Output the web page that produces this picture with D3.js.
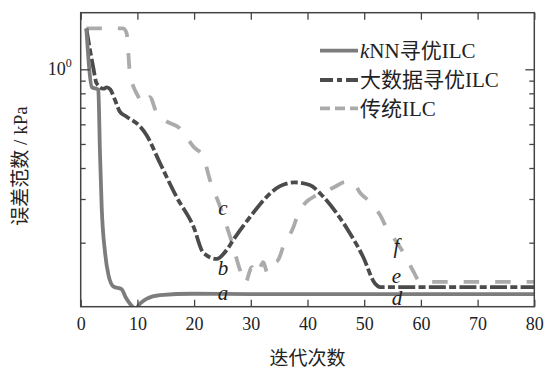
<!DOCTYPE html>
<html>
<head>
<meta charset="utf-8">
<script src="https://cdn.jsdelivr.net/npm/d3@7"></script>
<style>
body { margin: 0; background: #fff; }
</style>
</head>
<body>
<script>
// kNN寻优ILC (solid)
let knnX = [1, 2, 3, 3.1, 3.4, 3.7, 4.3, 4.9, 5.8, 7.2, 8, 8.9, 9.6, 10.5, 11.6, 14, 19.8, 30, 50, 80];
let knnY = [1.46, 0.846, 0.831, 0.825, 0.46, 0.279, 0.182, 0.148, 0.133, 0.130, 0.1197, 0.112, 0.108, 0.1139, 0.1188, 0.123, 0.1245, 0.124, 0.124, 0.124];

// 大数据寻优ILC (dash-dot)
let bigX = [1, 2.2, 2.8, 4, 4.6, 5.2, 6.05, 6.9, 8.1, 10.5, 11.6, 14, 16.9, 19.9, 21.6, 24, 25.75, 26.9, 29.9, 32.8, 35.15, 37.8, 40.4, 42.8, 45.15, 47.5, 49.8, 51.9, 52.8, 55, 80];
let bigY = [1.46, 1.02, 0.878, 0.835, 0.845, 0.83, 0.752, 0.675, 0.644, 0.587, 0.543, 0.418, 0.306, 0.232, 0.1825, 0.172, 0.187, 0.205, 0.2545, 0.306, 0.338, 0.350, 0.3415, 0.306, 0.2627, 0.218, 0.1755, 0.137, 0.1325, 0.1325, 0.1325];

// 传统ILC (dashed)
let traX = [1, 7.5, 8.1, 8.7, 9.3, 10, 11, 12.2, 13.4, 15.2, 17.5, 19, 19.9, 21.6, 22.8, 24.6, 26.9, 28.1, 29.0, 30.2, 31.1, 32.2, 32.9, 33.75, 34.8, 36.0, 37.3, 38.3, 39.6, 41.3, 42.6, 44.85, 46.6, 47.9, 49.3, 51.3, 52.8, 54.0, 55.7, 57.5, 58.7, 59.9, 80];
let traY = [1.463, 1.463, 1.397, 0.948, 0.851, 0.788, 0.725, 0.773, 0.665, 0.615, 0.578, 0.519, 0.4875, 0.444, 0.358, 0.279, 0.1926, 0.155, 0.1375, 0.1595, 0.1495, 0.167, 0.152, 0.164, 0.170, 0.201, 0.225, 0.2585, 0.289, 0.308, 0.317, 0.336, 0.351, 0.351, 0.317, 0.288, 0.2585, 0.2285, 0.2015, 0.173, 0.1527, 0.139, 0.139];

let xTicks = [0, 10, 20, 30, 40, 50, 60, 70, 80];
let yMinor = [0.2, 0.3, 0.4, 0.5, 0.6, 0.7, 0.8, 0.9];
let yMajor = [1];

let seriesNames = ["kNN寻优ILC", "大数据寻优ILC", "传统ILC"];
let seriesColors = ["#7c7c7c", "#4b4b4b", "#ababab"];
let seriesDash = [null, "17,3.3,7,3.3", "15.5,16"];
let legendDash = [null, "13,4,5,4", "10,5"];

let markText = ["a", "b", "c", "d", "e", "f"];
let markX = [25.1, 25.1, 25.1, 55.8, 55.7, 55.7];
let markY = [0.125, 0.1576, 0.275, 0.1184, 0.1459, 0.1926];

let w = 546, h = 369;
let padL = 80.7, padR = 534.3, padT = 12.7, padB = 306.7;

let serif = "'Liberation Serif', 'Times New Roman', 'Noto Sans CJK SC', serif";

let xScale = d3.scaleLinear().domain([0, 80]).range([padL, padR]);
let yScale = d3.scaleLog().domain([0.1104, 1.691]).range([padB, padT]);

let svg = d3.select("body").append("svg")
  .attr("width", w).attr("height", h);

svg.append("clipPath").attr("id", "plot")
  .append("rect")
  .attr("x", padL).attr("y", padT)
  .attr("width", padR - padL).attr("height", padB - padT);

let line = d3.line()
  .x(d => xScale(d[0]))
  .y(d => yScale(d[1]))
  .curve(d3.curveMonotoneX);

let series = [
  d3.zip(knnX, knnY),
  d3.zip(bigX, bigY),
  d3.zip(traX, traY)
];

let g = svg.append("g").attr("clip-path", "url(#plot)");
[2, 1, 0].forEach(i => {
  g.append("path")
    .datum(series[i])
    .attr("d", line)
    .attr("fill", "none")
    .attr("stroke", seriesColors[i])
    .attr("stroke-width", i == 0 ? 3.8 : 3.8)
    .attr("stroke-dasharray", seriesDash[i]);
});

// axes, ticks inward on all four sides
let frameCol = "#444";
let xb = d3.axisBottom(xScale).tickValues(xTicks).tickSizeInner(-7).tickSizeOuter(0).tickPadding(10.5);
let xt = d3.axisTop(xScale).tickValues(xTicks).tickSizeInner(-7).tickSizeOuter(0).tickFormat("");
let ylMin = d3.axisLeft(yScale).tickValues(yMinor).tickSizeInner(-5).tickSizeOuter(0).tickFormat("");
let ylMaj = d3.axisLeft(yScale).tickValues(yMajor).tickSizeInner(-9).tickSizeOuter(0).tickFormat("");
let yrMin = d3.axisRight(yScale).tickValues(yMinor).tickSizeInner(-5).tickSizeOuter(0).tickFormat("");
let yrMaj = d3.axisRight(yScale).tickValues(yMajor).tickSizeInner(-9).tickSizeOuter(0).tickFormat("");

let axes = [
  [xb, "translate(0," + padB + ")"],
  [xt, "translate(0," + padT + ")"],
  [ylMin, "translate(" + padL + ",0)"],
  [ylMaj, "translate(" + padL + ",0)"],
  [yrMin, "translate(" + padR + ",0)"],
  [yrMaj, "translate(" + padR + ",0)"]
];
axes.forEach(a => {
  let ax = svg.append("g").attr("transform", a[1]).call(a[0]);
  ax.select(".domain").remove();
  ax.selectAll("line").attr("stroke", frameCol).attr("stroke-width", 1.3);
  ax.selectAll("text")
    .attr("fill", "#222")
    .style("font-family", serif)
    .style("font-size", "18px");
});

svg.append("rect")
  .attr("x", padL).attr("y", padT)
  .attr("width", padR - padL).attr("height", padB - padT)
  .attr("fill", "none")
  .attr("stroke", frameCol)
  .attr("stroke-width", 1.5);

// 10^0 label
let ylab = svg.append("text")
  .attr("x", padL - 9)
  .attr("y", yScale(1) + 6)
  .attr("text-anchor", "end")
  .attr("fill", "#222")
  .style("font-family", serif)
  .style("font-size", "18px");
ylab.append("tspan").text("10");
ylab.append("tspan").attr("dy", -8).style("font-size", "12px").text("0");

// curve letters
svg.selectAll(".mark")
  .data(markText)
  .enter().append("text")
  .attr("class", "mark")
  .attr("x", (d, i) => xScale(markX[i]))
  .attr("y", (d, i) => yScale(markY[i]))
  .attr("dy", "0.3em")
  .attr("text-anchor", "middle")
  .attr("fill", "#222")
  .style("font-family", serif)
  .style("font-style", "italic")
  .style("font-size", "21px")
  .text(d => d);

// legend
let legend = svg.selectAll(".legend")
  .data(seriesNames)
  .enter().append("g")
  .attr("class", "legend")
  .attr("transform", (d, i) => "translate(320," + [50.7, 80, 108.3][i] + ")");

legend.append("line")
  .attr("x1", 0).attr("x2", 38)
  .attr("stroke", (d, i) => seriesColors[i])
  .attr("stroke-width", 3.8)
  .attr("stroke-dasharray", (d, i) => legendDash[i]);

let lt = legend.append("text")
  .attr("x", 40)
  .attr("dy", "0.35em")
  .attr("fill", "#222")
  .style("font-family", serif)
  .style("font-size", "21px");
lt.each(function(d) {
  let t = d3.select(this);
  if (d[0] == "k") {
    t.append("tspan").style("font-style", "italic").text("k");
    t.append("tspan").text(d.slice(1));
  } else {
    t.text(d);
  }
});

// axis titles
svg.append("text")
  .attr("x", (padL + padR) / 2)
  .attr("y", 358)
  .attr("dy", "0.35em")
  .attr("text-anchor", "middle")
  .attr("fill", "#222")
  .style("font-family", serif)
  .style("font-size", "19px")
  .text("迭代次数");

svg.append("text")
  .attr("transform", "translate(20,166) rotate(-90)")
  .attr("dy", "0.35em")
  .attr("text-anchor", "middle")
  .attr("fill", "#222")
  .style("font-family", serif)
  .style("font-size", "19px")
  .text("误差范数 / kPa");
</script>
</body>
</html>
